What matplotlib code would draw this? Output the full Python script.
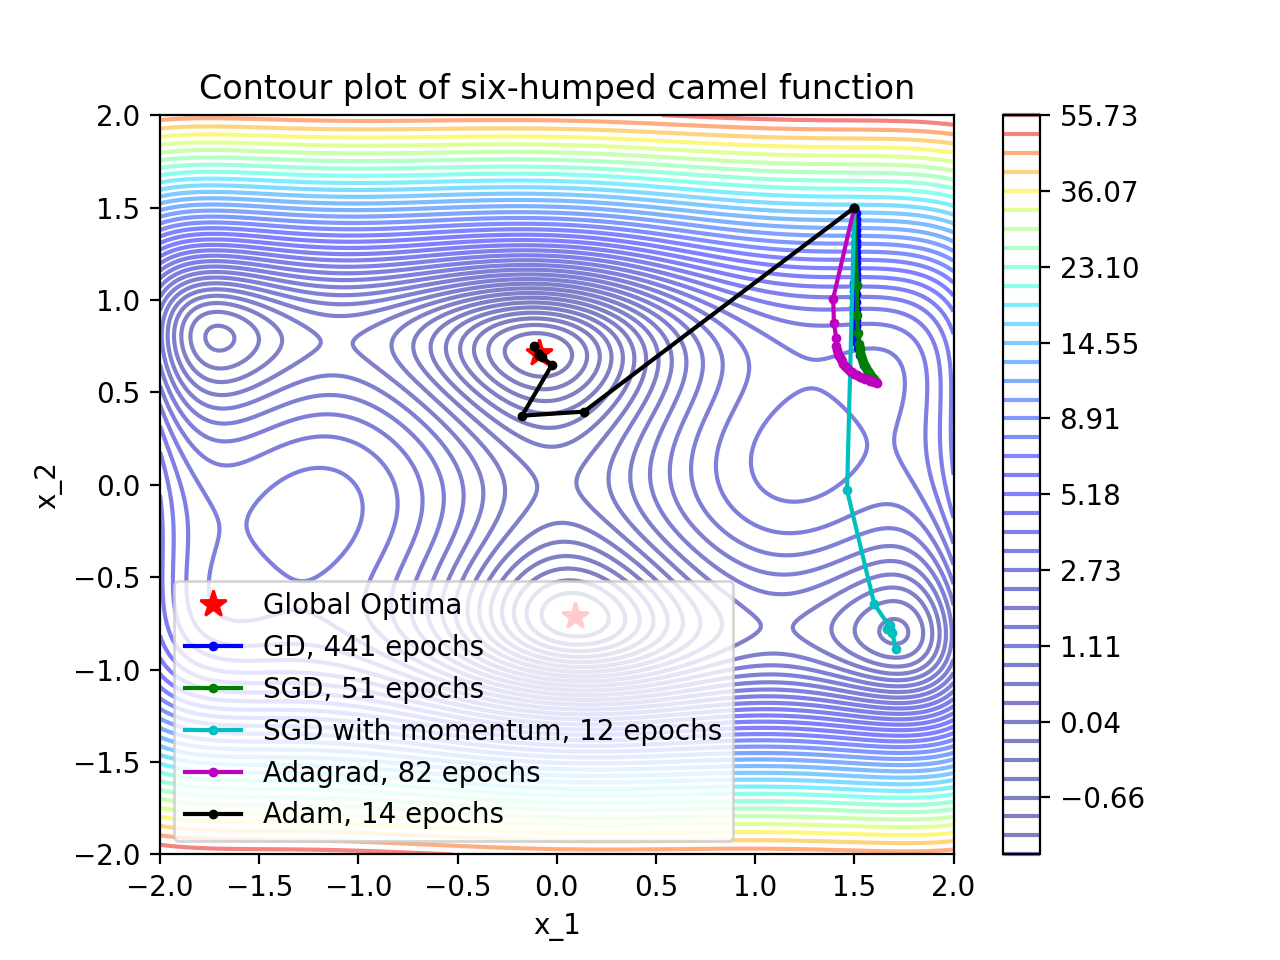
import numpy as np
import matplotlib
matplotlib.use("Agg")
import matplotlib.pyplot as plt

# paths (x_1, x_2)
gd_x = [1.5, 1.51, 1.51, 1.51, 1.51, 1.51, 1.51, 1.51, 1.51, 1.51, 1.51, 1.51, 1.51, 1.51, 1.498, 1.51, 1.498, 1.51, 1.498, 1.51, 1.498, 1.51, 1.498, 1.51, 1.51, 1.51, 1.51, 1.51, 1.515, 1.52, 1.53, 1.55, 1.57, 1.59, 1.61]
gd_y = [1.5, 1.47, 1.44, 1.41, 1.38, 1.35, 1.32, 1.29, 1.26, 1.23, 1.20, 1.17, 1.14, 1.11, 1.09, 1.07, 1.05, 1.03, 1.01, 0.99, 0.97, 0.95, 0.93, 0.92, 0.89, 0.86, 0.83, 0.80, 0.77, 0.74, 0.70, 0.65, 0.61, 0.58, 0.555]
sgd_x = [1.5, 1.513, 1.513, 1.518, 1.525, 1.527, 1.53, 1.535, 1.54, 1.545, 1.553, 1.56, 1.57, 1.58, 1.59, 1.60, 1.61]
sgd_y = [1.5, 1.08, 0.917, 0.824, 0.764, 0.74, 0.72, 0.695, 0.68, 0.665, 0.645, 0.63, 0.615, 0.60, 0.585, 0.57, 0.555]
mom_x = [1.5, 1.463, 1.60, 1.675, 1.665, 1.685, 1.68, 1.69, 1.71]
mom_y = [1.5, -0.03, -0.645, -0.764, -0.78, -0.79, -0.76, -0.80, -0.888]
ada_x = [1.5, 1.393, 1.397, 1.408, 1.408, 1.413, 1.418, 1.424, 1.43, 1.436, 1.443, 1.451, 1.46, 1.469, 1.478, 1.489, 1.50, 1.515, 1.529, 1.542, 1.555, 1.567, 1.579, 1.59, 1.60, 1.614]
ada_y = [1.5, 1.008, 0.873, 0.797, 0.753, 0.73, 0.71, 0.695, 0.68, 0.668, 0.656, 0.645, 0.635, 0.626, 0.618, 0.609, 0.60, 0.592, 0.585, 0.58, 0.575, 0.57, 0.564, 0.561, 0.558, 0.553]
adam_x = [1.5, 0.137, -0.175, -0.024, -0.09, -0.115, -0.09, -0.075, -0.09]
adam_y = [1.5, 0.396, 0.374, 0.65, 0.70, 0.753, 0.70, 0.69, 0.71]
optima_x = [-0.0898, 0.0898]
optima_y = [0.7126, -0.7126]
cbar_ticks = [-0.66, 0.04, 1.11, 2.73, 5.18, 8.91, 14.55, 23.10, 36.07, 55.73]
cbar_labels = ["\u22120.66", "0.04", "1.11", "2.73", "5.18", "8.91", "14.55", "23.10", "36.07", "55.73"]


def camel(x1, x2):
    # the surface itself is the named function, it is not read from pixels
    return (4 - 2.1 * x1**2 + x1**4 / 3) * x1**2 + x1 * x2 + (-4 + 4 * x2**2) * x2**2


g1, g2 = np.meshgrid(np.linspace(-2, 2, 401), np.linspace(-2, 2, 401))
z = camel(g1, g2)
levels = np.logspace(0, np.log10(z.max() - z.min() + 1), 40) + z.min() - 1

fig, ax = plt.subplots(figsize=(6.4, 4.8), dpi=200)
cs = ax.contour(g1, g2, z, levels=levels, cmap="jet", alpha=0.5)
ax.plot(optima_x, optima_y, "r*", markersize=10, label="Global Optima")
ax.plot(gd_x, gd_y, "b.-", markersize=5, label="GD, 441 epochs")
ax.plot(sgd_x, sgd_y, "g.-", markersize=5, label="SGD, 51 epochs")
ax.plot(mom_x, mom_y, "c.-", markersize=5, label="SGD with momentum, 12 epochs")
ax.plot(ada_x, ada_y, "m.-", markersize=5, label="Adagrad, 82 epochs")
ax.plot(adam_x, adam_y, "k.-", markersize=5, label="Adam, 14 epochs")
ax.set_xlim(-2, 2)
ax.set_ylim(-2, 2)
ax.set_xlabel("x_1")
ax.set_ylabel("x_2")
ax.set_title("Contour plot of six-humped camel function")
ax.legend(loc="lower left")
cb = fig.colorbar(cs)
cb.set_ticks(cbar_ticks, labels=cbar_labels)
fig.savefig("out.png")
